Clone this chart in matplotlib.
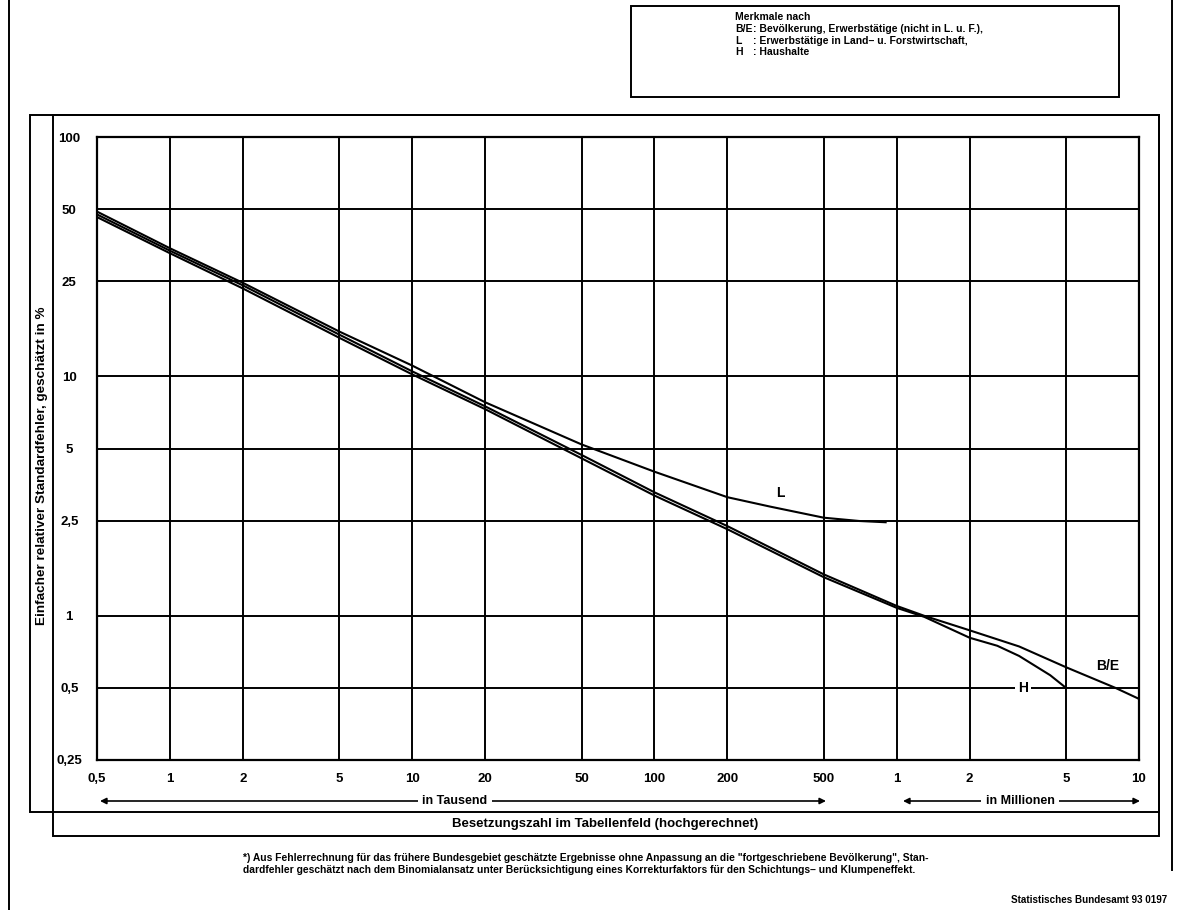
import numpy as np, matplotlib
matplotlib.use('Agg')
import matplotlib.pyplot as plt
import matplotlib.patches as patches
import matplotlib.lines as mlines

plt.rcParams['font.family'] = ['Liberation Sans', 'DejaVu Sans']
plt.rcParams['font.weight'] = 'bold'

## Besetzungszahl in Tausend, Standardfehler in %
x_be = [0.5, 1, 2, 5, 10, 20, 50, 100, 200, 500, 1000, 1300, 2000, 3200, 5000, 8000, 10000]
y_be = [47.5, 33.5, 24.0, 14.95, 10.5, 7.5, 4.7, 3.28, 2.37, 1.49, 1.10, 1.0, 0.87, 0.745, 0.61, 0.5, 0.45]
x_h = [0.5, 1, 2, 5, 10, 20, 50, 100, 200, 500, 1000, 1300, 2000, 2600, 3200, 4300, 5000]
y_h = [46.3, 32.7, 23.3, 14.5, 10.2, 7.3, 4.55, 3.18, 2.30, 1.45, 1.08, 0.99, 0.81, 0.75, 0.68, 0.565, 0.5]
x_l = [0.5, 1, 2, 5, 10, 20, 50, 100, 200, 300, 500, 700, 900]
y_l = [48.8, 34.3, 24.6, 15.4, 11.1, 7.8, 5.2, 4.0, 3.13, 2.86, 2.57, 2.49, 2.46]

xticks = [0.5, 1, 2, 5, 10, 20, 50, 100, 200, 500, 1000, 2000, 5000, 10000]
xticklabels = ['0,5', '1', '2', '5', '10', '20', '50', '100', '200', '500', '1', '2', '5', '10']
yticks = [0.25, 0.5, 1, 2.5, 5, 10, 25, 50, 100]
yticklabels = ['0,25', '0,5', '1', '2,5', '5', '10', '25', '50', '100']

W, H = 1180., 910.
def fx(x): return x / W
def fy(y): return 1 - y / H

fig = plt.figure(figsize=(11.8, 9.1), dpi=100)
ax = fig.add_axes([fx(97), fy(760), (1139 - 97) / W, (760 - 137) / H])
ax.set_xscale('log')
ax.set_yscale('log')
ax.set_xlim(0.5, 10000)
ax.set_ylim(0.25, 100)
ax.xaxis.set_minor_locator(matplotlib.ticker.NullLocator())
ax.yaxis.set_minor_locator(matplotlib.ticker.NullLocator())
ax.set_xticks(xticks)
ax.set_xticklabels(xticklabels)
ax.set_yticks(yticks)
ax.set_yticklabels(yticklabels)
ax.tick_params(length=0, labelsize=9.5)
ax.tick_params(axis='x', pad=9)
ax.tick_params(axis='y', pad=20)
for lbl in ax.get_yticklabels():
    lbl.set_horizontalalignment('center')
ax.grid(True, color='black', lw=1.4)
for s in ax.spines.values():
    s.set_linewidth(1.6)

ax.plot(x_be, y_be, color='black', lw=1.5)
ax.plot(x_h, y_h, color='black', lw=1.5)
ax.plot(x_l, y_l, color='black', lw=1.5)

ax.text(332, 3.25, 'L', fontsize=10, ha='center', va='center')
ax.text(7460, 0.62, 'B/E', fontsize=10, ha='center', va='center')
ax.text(3320, 0.5, 'H', fontsize=10, ha='center', va='center',
        bbox=dict(facecolor='white', edgecolor='none', pad=2))

# Rahmen
def box(x0, y0, x1, y1):
    fig.add_artist(patches.Rectangle((fx(x0), fy(y1)), (x1 - x0) / W, (y1 - y0) / H,
                                     fill=False, lw=1.4, color='black', transform=fig.transFigure))
box(30, 115, 1159, 812)
box(53, 115, 1159, 836)
box(631, 6, 1119, 97)
fig.add_artist(mlines.Line2D([fx(9), fx(9)], [fy(0), fy(910)], color='black', lw=1.4))
fig.add_artist(mlines.Line2D([fx(1172), fx(1172)], [fy(0), fy(870)], color='black', lw=1.4))

# Pfeile
def arrow(x0, x1, y, label, xm):
    fig.add_artist(patches.FancyArrowPatch((fx(x0), fy(y)), (fx(x1), fy(y)), transform=fig.transFigure,
                                           arrowstyle='<|-|>', mutation_scale=9, lw=1.2, color='black',
                                           shrinkA=0, shrinkB=0))
    fig.text(fx(xm), fy(y), label, fontsize=9, ha='center', va='center',
             bbox=dict(facecolor='white', edgecolor='none', pad=3))
arrow(100, 826, 801, 'in Tausend', 455)
arrow(903, 1140, 801, 'in Millionen', 1020)

fig.text(fx(605), fy(824), 'Besetzungszahl im Tabellenfeld (hochgerechnet)', fontsize=9.5,
         ha='center', va='center')
fig.text(fx(42), fy(466), 'Einfacher relativer Standardfehler, geschätzt in %', fontsize=9.7,
         ha='center', va='center', rotation=90)

# Legende
fig.text(fx(735), fy(17), 'Merkmale nach', fontsize=7.5, va='center')
for i, (k, t) in enumerate([('B/E', 'Bevölkerung, Erwerbstätige (nicht in L. u. F.),'),
                            ('L', 'Erwerbstätige in Land– u. Forstwirtschaft,'),
                            ('H', 'Haushalte')]):
    fig.text(fx(735), fy(29 + 11.7 * i), k, fontsize=7.5, va='center')
    fig.text(fx(753), fy(29 + 11.7 * i), ': ' + t, fontsize=7.5, va='center')

fig.text(fx(243), fy(858), '*) Aus Fehlerrechnung für das frühere Bundesgebiet geschätzte Ergebnisse ohne Anpassung an die "fortgeschriebene Bevölkerung", Stan-',
         fontsize=7.4, va='center')
fig.text(fx(243), fy(870), 'dardfehler geschätzt nach dem Binomialansatz unter Berücksichtigung eines Korrekturfaktors für den Schichtungs– und Klumpeneffekt.',
         fontsize=7.4, va='center')
fig.text(fx(1167), fy(900), 'Statistisches Bundesamt 93 0197', fontsize=7.1, ha='right', va='center')

fig.savefig('out.png', dpi=100)
